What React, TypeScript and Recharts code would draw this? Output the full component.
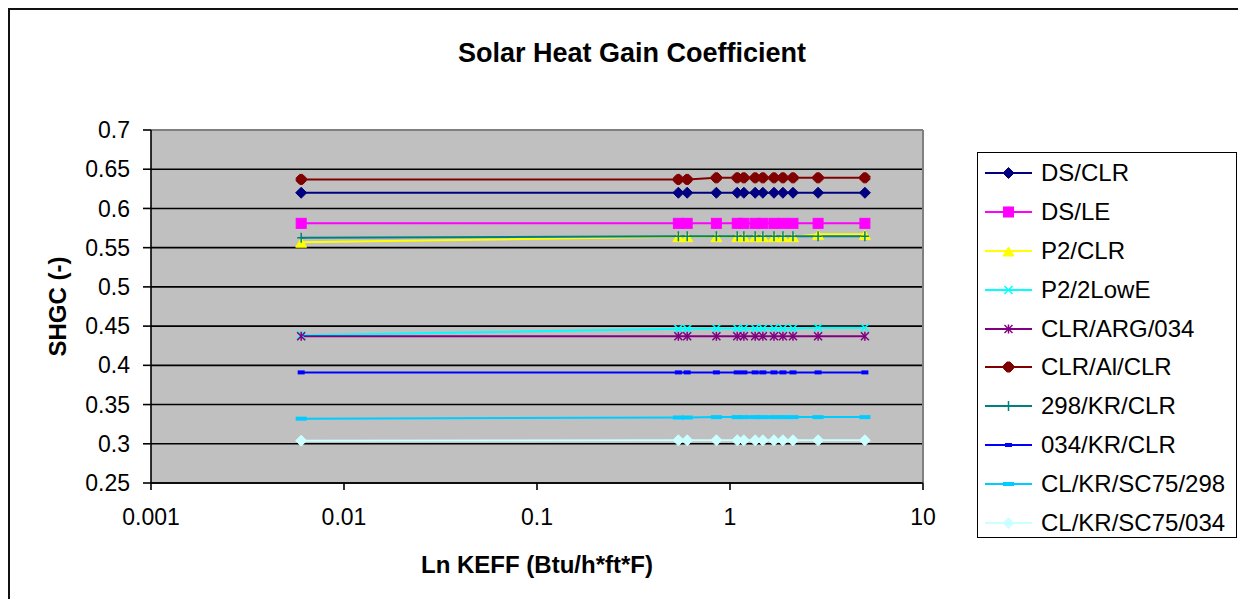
import React from 'react';
import { LineChart, Line, XAxis, YAxis, CartesianGrid, Legend, ReferenceLine } from 'recharts';

const xValues = [0.006, 0.54, 0.6, 0.85, 1.09, 1.18, 1.35, 1.48, 1.69, 1.88, 2.12, 2.86, 5.0];

const dsClr = [0.62, 0.62, 0.62, 0.62, 0.62, 0.62, 0.62, 0.62, 0.62, 0.62, 0.62, 0.62, 0.62];
const dsLe = [0.581, 0.581, 0.581, 0.581, 0.581, 0.581, 0.581, 0.581, 0.581, 0.581, 0.581, 0.581, 0.581];
const p2Clr = [0.557, 0.564, 0.564, 0.564, 0.564, 0.564, 0.564, 0.564, 0.564, 0.564, 0.564, 0.567, 0.567];
const p2LowE = [0.4385, 0.4465, 0.4465, 0.447, 0.447, 0.447, 0.447, 0.447, 0.447, 0.447, 0.447, 0.448, 0.448];
const clrArg034 = [0.437, 0.437, 0.437, 0.437, 0.437, 0.437, 0.437, 0.437, 0.437, 0.437, 0.437, 0.437, 0.437];
const clrAlClr = [0.637, 0.637, 0.637, 0.639, 0.639, 0.639, 0.639, 0.639, 0.639, 0.639, 0.639, 0.639, 0.639];
const kr298Clr = [0.5625, 0.5645, 0.5645, 0.5645, 0.5645, 0.5645, 0.5645, 0.5645, 0.5645, 0.5645, 0.5645, 0.5645, 0.5645];
const kr034Clr = [0.391, 0.391, 0.391, 0.391, 0.391, 0.391, 0.391, 0.391, 0.391, 0.391, 0.391, 0.391, 0.391];
const sc75298 = [0.332, 0.3335, 0.3335, 0.334, 0.334, 0.334, 0.334, 0.334, 0.334, 0.334, 0.334, 0.334, 0.334];
const sc75034 = [0.304, 0.3045, 0.3045, 0.3045, 0.3045, 0.3045, 0.3045, 0.3045, 0.3045, 0.3045, 0.3045, 0.3045, 0.3045];

const xTicks = [0.001, 0.01, 0.1, 1, 10];
const yTicks = [0.25, 0.3, 0.35, 0.4, 0.45, 0.5, 0.55, 0.6, 0.65, 0.7];

const seriesNames = ['DS/CLR', 'DS/LE', 'P2/CLR', 'P2/2LowE', 'CLR/ARG/034', 'CLR/Al/CLR', '298/KR/CLR', '034/KR/CLR', 'CL/KR/SC75/298', 'CL/KR/SC75/034'];
const seriesValues = [dsClr, dsLe, p2Clr, p2LowE, clrArg034, clrAlClr, kr298Clr, kr034Clr, sc75298, sc75034];
const seriesColors = ['#000080', '#FF00FF', '#FFFF00', '#00FFFF', '#800080', '#800000', '#008080', '#0000FF', '#00CCFF', '#CCFFFF'];
const seriesShapes = ['diamond', 'square', 'triangle', 'x', 'star', 'rdiamond', 'plus', 'dash', 'longdash', 'diamond'];

const data = xValues.map((x, i) => {
  const row: Record<string, number> = { x };
  seriesValues.forEach((vals, s) => {
    row['s' + s] = vals[i];
  });
  return row;
});

const FONT = '"Liberation Sans", Arial, sans-serif';

function marker(shape: string, color: string, cx: number, cy: number, key?: string) {
  switch (shape) {
    case 'diamond':
      return <polygon key={key} points={`${cx},${cy - 5.5} ${cx + 5.5},${cy} ${cx},${cy + 5.5} ${cx - 5.5},${cy}`} fill={color} stroke={color} strokeWidth={1} />;
    case 'rdiamond':
      return (
        <polygon
          key={key}
          points={`${cx - 1.5},${cy - 5} ${cx + 1.5},${cy - 5} ${cx + 5},${cy - 1.5} ${cx + 5},${cy + 1.5} ${cx + 1.5},${cy + 5} ${cx - 1.5},${cy + 5} ${cx - 5},${cy + 1.5} ${cx - 5},${cy - 1.5}`}
          fill={color}
          stroke={color}
          strokeWidth={1}
        />
      );
    case 'square':
      return <rect key={key} x={cx - 5} y={cy - 5} width={10} height={10} fill={color} stroke={color} strokeWidth={1} />;
    case 'triangle':
      return <polygon key={key} points={`${cx},${cy - 4} ${cx + 5.5},${cy + 5} ${cx - 5.5},${cy + 5}`} fill={color} stroke={color} strokeWidth={1} />;
    case 'x':
      return (
        <g key={key}>
          <line x1={cx - 4} y1={cy - 4} x2={cx + 4} y2={cy + 4} stroke={color} strokeWidth={1.5} />
          <line x1={cx - 4} y1={cy + 4} x2={cx + 4} y2={cy - 4} stroke={color} strokeWidth={1.5} />
        </g>
      );
    case 'star':
      return (
        <g key={key}>
          <line x1={cx - 4} y1={cy - 4} x2={cx + 4} y2={cy + 4} stroke={color} strokeWidth={1.5} />
          <line x1={cx - 4} y1={cy + 4} x2={cx + 4} y2={cy - 4} stroke={color} strokeWidth={1.5} />
          <line x1={cx} y1={cy - 4.5} x2={cx} y2={cy + 4.5} stroke={color} strokeWidth={1.5} />
        </g>
      );
    case 'plus':
      return (
        <g key={key}>
          <line x1={cx} y1={cy - 5} x2={cx} y2={cy + 5} stroke={color} strokeWidth={1.5} />
          <line x1={cx - 4} y1={cy} x2={cx + 4} y2={cy} stroke={color} strokeWidth={1.5} />
        </g>
      );
    case 'dash':
      return <rect key={key} x={cx - 3.5} y={cy - 2} width={7} height={4} fill={color} />;
    case 'longdash':
      return <rect key={key} x={cx - 5.5} y={cy - 2} width={11} height={4} fill={color} />;
    default:
      return <circle key={key} cx={cx} cy={cy} r={4} fill={color} />;
  }
}

const renderLegend = () => (
  <div
    style={{
      width: 260,
      height: 386,
      border: '1px solid #000',
      background: '#fff',
      boxSizing: 'border-box',
      paddingTop: 1,
      fontFamily: FONT,
    }}
  >
    {seriesNames.map((name, i) => (
      <div key={name} style={{ display: 'flex', alignItems: 'center', height: 38.8 }}>
        <svg width={56} height={20} style={{ marginLeft: 7, flex: 'none' }}>
          <line x1={0} y1={10} x2={47} y2={10} stroke={seriesColors[i]} strokeWidth={2} />
          {marker(seriesShapes[i], seriesColors[i], 23.5, 10)}
        </svg>
        <span style={{ fontSize: 24, color: '#000', whiteSpace: 'nowrap', lineHeight: 1 }}>{name}</span>
      </div>
    ))}
  </div>
);

export default function App() {
  return (
    <div style={{ position: 'relative', width: 1246, height: 607, margin: -8, overflow: 'hidden', background: '#fff' }}>
      <div
        style={{
          position: 'absolute',
          left: 0,
          top: 5,
          width: 1300,
          height: 1,
          background: '#c8c8c8',
        }}
      />
      <div
        style={{
          position: 'absolute',
          left: 8,
          top: 8,
          width: 1300,
          height: 700,
          borderLeft: '2px solid #111',
          borderTop: '2px solid #111',
        }}
      />
      <div
        style={{
          position: 'absolute',
          left: 0,
          top: 36,
          width: 1264,
          textAlign: 'center',
          fontFamily: FONT,
          fontWeight: 'bold',
          fontSize: 27,
          color: '#000',
          lineHeight: '34px',
        }}
      >
        Solar Heat Gain Coefficient
      </div>
      <div style={{ position: 'absolute', left: 0, top: 0 }}>
        <LineChart width={1246} height={607} data={data} margin={{ top: 130, right: 323, bottom: 0, left: 0 }}>
          <CartesianGrid horizontal vertical={false} stroke="#000" strokeWidth={1.6} fill="#C0C0C0" fillOpacity={1} />
          <XAxis
            dataKey="x"
            type="number"
            scale="log"
            domain={[0.001, 10]}
            ticks={xTicks}
            allowDataOverflow
            height={124}
            tickFormatter={(v: number) => String(v)}
            tick={{ fill: '#000', fontSize: 23, fontFamily: FONT }}
            tickSize={7}
            tickMargin={19}
            axisLine={{ stroke: '#000', strokeWidth: 1.6 }}
            tickLine={{ stroke: '#000', strokeWidth: 1.6 }}
            label={{
              content: (props: any) => {
                const vb = props.viewBox || { x: 151, y: 483, width: 772 };
                return (
                  <text
                    x={vb.x + vb.width / 2}
                    y={vb.y + 90}
                    textAnchor="middle"
                    fontFamily={FONT}
                    fontWeight="bold"
                    fontSize={24}
                    fill="#000"
                  >
                    Ln KEFF (Btu/h*ft*F)
                  </text>
                );
              },
            }}
          />
          <YAxis
            type="number"
            domain={[0.25, 0.7]}
            ticks={yTicks}
            width={151}
            tickFormatter={(v: number) => String(v)}
            tick={{ fill: '#000', fontSize: 23, fontFamily: FONT }}
            tickSize={8}
            tickMargin={13}
            axisLine={{ stroke: '#000', strokeWidth: 1.6 }}
            tickLine={{ stroke: '#000', strokeWidth: 1.6 }}
            label={{
              content: (props: any) => {
                const vb = props.viewBox || { x: 0, y: 130, width: 151, height: 353 };
                const cy = vb.y + vb.height / 2;
                return (
                  <text
                    x={57}
                    y={cy}
                    transform={`rotate(-90, 57, ${cy})`}
                    textAnchor="middle"
                    dominantBaseline="central"
                    fontFamily={FONT}
                    fontWeight="bold"
                    fontSize={24}
                    fill="#000"
                  >
                    SHGC (-)
                  </text>
                );
              },
            }}
          />
          <ReferenceLine y={0.7} stroke="#808080" strokeWidth={2} />
          <ReferenceLine x={10} stroke="#808080" strokeWidth={2} />
          {seriesNames.map((name, i) => (
            <Line
              key={name}
              name={name}
              dataKey={'s' + i}
              type="linear"
              stroke={seriesColors[i]}
              strokeWidth={2}
              isAnimationActive={false}
              activeDot={false}
              dot={(p: any) => marker(seriesShapes[i], seriesColors[i], p.cx, p.cy, `${name}-${p.index}`)}
            />
          ))}
          <Legend
            layout="vertical"
            align="center"
            verticalAlign="middle"
            content={renderLegend}
            wrapperStyle={{ position: 'absolute', left: 977, top: 152, width: 260, height: 386 }}
          />
        </LineChart>
      </div>
    </div>
  );
}
